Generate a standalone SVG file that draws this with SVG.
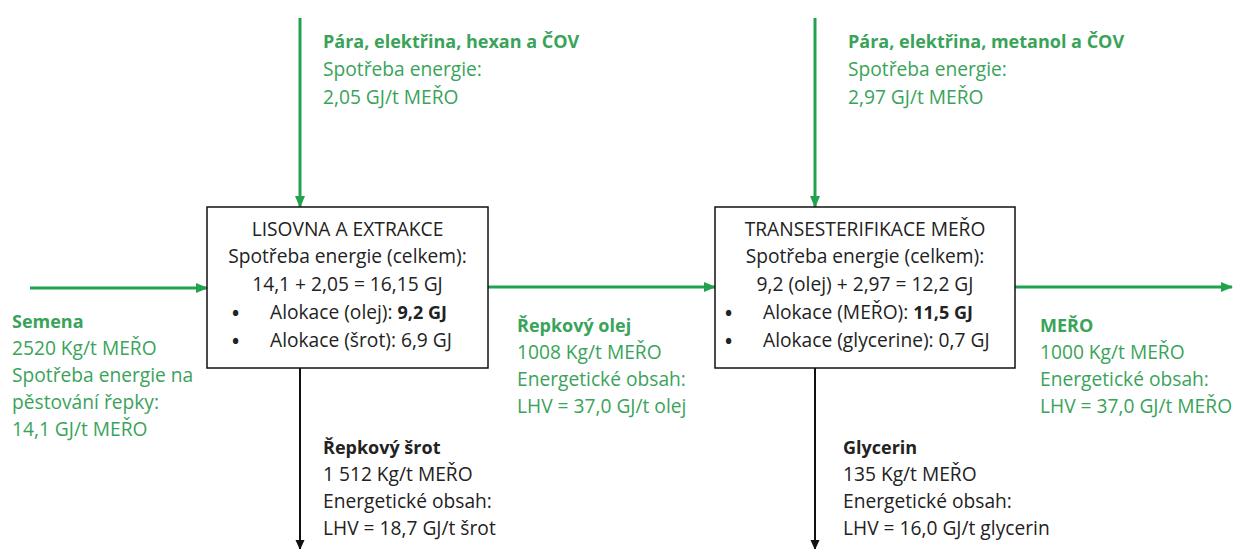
<svg xmlns="http://www.w3.org/2000/svg" width="1237" height="549" viewBox="0 0 1237 549">
<style>
text{font-family:"Open Sans","Liberation Sans",Arial,sans-serif;font-size:19.2px}
.g{fill:#3aa35a}
.k{fill:#222}
.b{font-weight:bold;font-size:18px}
.m{text-anchor:middle}
.dot{font-weight:bold;font-size:19px}
.box{fill:#fff;stroke:#111;stroke-width:1.5}
.gl{stroke:#22a24f;stroke-width:3;fill:none}
.kl{stroke:#111;stroke-width:2;fill:none}
</style>
<defs>
<marker id="ag" markerUnits="userSpaceOnUse" markerWidth="12" markerHeight="12" refX="11" refY="6" orient="auto"><path d="M0,1 L12,6 L0,11 Z" fill="#22a24f"/></marker>
<marker id="ak" markerUnits="userSpaceOnUse" markerWidth="10" markerHeight="10" refX="9" refY="5" orient="auto"><path d="M0,0.5 L10,5 L0,9.5 Z" fill="#111"/></marker>
</defs>
<rect width="1237" height="549" fill="#fff"/>
<g id="connectors">
<line class="gl" x1="300" y1="18" x2="300" y2="207" marker-end="url(#ag)"/>
<line class="gl" x1="815" y1="18" x2="815" y2="207" marker-end="url(#ag)"/>
<line class="gl" x1="30" y1="288" x2="207" y2="288" marker-end="url(#ag)"/>
<line class="gl" x1="488" y1="287" x2="715" y2="287" marker-end="url(#ag)"/>
<line class="gl" x1="1015" y1="287" x2="1232" y2="287" marker-end="url(#ag)"/>
<line class="kl" x1="300" y1="368" x2="300" y2="549" marker-end="url(#ak)"/>
<line class="kl" x1="815" y1="368" x2="815" y2="549" marker-end="url(#ak)"/>
</g>
<g id="lisovna">
<rect class="box" x="207" y="207" width="281" height="161"/>
<text class="k m" x="347.5" y="236">LISOVNA A EXTRAKCE</text>
<text class="k m" x="347.5" y="263">Spotřeba energie (celkem):</text>
<text class="k m" x="347.5" y="291">14,1 + 2,05 = 16,15 GJ</text>
<text class="k dot" x="232" y="320">•</text>
<text class="k" x="270" y="319">Alokace (olej): <tspan class="b">9,2 GJ</tspan></text>
<text class="k dot" x="232" y="348">•</text>
<text class="k" x="270" y="347">Alokace (šrot): 6,9 GJ</text>
</g>
<g id="transesterifikace">
<rect class="box" x="715" y="207" width="300" height="161"/>
<text class="k m" x="865" y="236">TRANSESTERIFIKACE MEŘO</text>
<text class="k m" x="865" y="263">Spotřeba energie (celkem):</text>
<text class="k m" x="865" y="291">9,2 (olej) + 2,97 = 12,2 GJ</text>
<text class="k dot" x="725" y="320">•</text>
<text class="k" x="763" y="319">Alokace (MEŘO): <tspan class="b">11,5 GJ</tspan></text>
<text class="k dot" x="725" y="348">•</text>
<text class="k" x="763" y="347">Alokace (glycerine): 0,7 GJ</text>
</g>
<g id="vstup1">
<text class="g b" x="323" y="48">Pára, elektřina, hexan a ČOV</text>
<text class="g" x="323" y="76">Spotřeba energie:</text>
<text class="g" x="323" y="104">2,05 GJ/t MEŘO</text>
</g>
<g id="vstup2">
<text class="g b" x="848" y="48">Pára, elektřina, metanol a ČOV</text>
<text class="g" x="848" y="76">Spotřeba energie:</text>
<text class="g" x="848" y="104">2,97 GJ/t MEŘO</text>
</g>
<g id="semena">
<text class="g b" x="12" y="328">Semena</text>
<text class="g" x="12" y="355">2520 Kg/t MEŘO</text>
<text class="g" x="12" y="382">Spotřeba energie na</text>
<text class="g" x="12" y="409">pěstování řepky:</text>
<text class="g" x="12" y="436">14,1 GJ/t MEŘO</text>
</g>
<g id="olej">
<text class="g b" x="517" y="332">Řepkový olej</text>
<text class="g" x="517" y="359">1008 Kg/t MEŘO</text>
<text class="g" x="517" y="386">Energetické obsah:</text>
<text class="g" x="517" y="413">LHV = 37,0 GJ/t olej</text>
</g>
<g id="mero">
<text class="g b" x="1040" y="332">MEŘO</text>
<text class="g" x="1040" y="359">1000 Kg/t MEŘO</text>
<text class="g" x="1040" y="386">Energetické obsah:</text>
<text class="g" x="1040" y="413">LHV = 37,0 GJ/t MEŘO</text>
</g>
<g id="srot">
<text class="k b" x="323" y="454">Řepkový šrot</text>
<text class="k" x="323" y="481">1 512 Kg/t MEŘO</text>
<text class="k" x="323" y="508">Energetické obsah:</text>
<text class="k" x="323" y="535">LHV = 18,7 GJ/t šrot</text>
</g>
<g id="glycerin">
<text class="k b" x="843" y="454">Glycerin</text>
<text class="k" x="843" y="481">135 Kg/t MEŘO</text>
<text class="k" x="843" y="508">Energetické obsah:</text>
<text class="k" x="843" y="535">LHV = 16,0 GJ/t glycerin</text>
</g>
</svg>
